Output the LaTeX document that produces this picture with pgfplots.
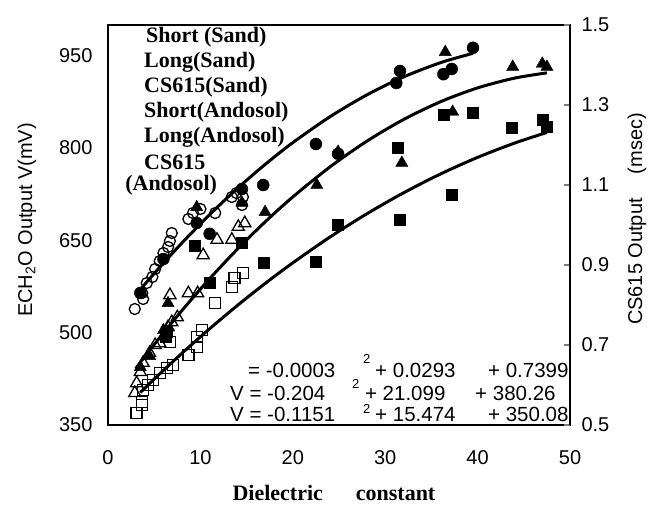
\documentclass[border=0pt]{standalone}
\usepackage{pgfplots}
\pgfplotsset{compat=1.18}
\usepackage{fontspec}
\setmainfont{Liberation Sans}
\newfontfamily\serifb{Liberation Serif}
\begin{document}
\begin{tikzpicture}[x=1pt,y=1pt]
\useasboundingbox (-108,-89) rectangle (547,425);
\tikzset{
  lbl/.style={font=\serifb\bfseries\fontsize{22}{24}\selectfont, anchor=west, inner sep=0pt},
  eq/.style={font=\fontsize{20.5}{24}\selectfont, anchor=base west, inner sep=0pt},
  sup/.style={font=\fontsize{13}{15}\selectfont, anchor=base west, inner sep=0pt},
}
\pgfplotsset{
  common/.style={
    at={(0,0)}, anchor=south west,
    scale only axis, width=462pt, height=400pt,
    xmin=0, xmax=50, clip=false,
    /pgf/number format/assume math mode=true,
    tick label style={font=\fontsize{20}{24}\selectfont},
    axis line style={line width=1.4pt},
  },
  fitline/.style={black, line width=3pt, smooth, no marks},
}
\begin{axis}[common,
  ymin=350, ymax=1000,
  xtick={0,10,20,30,40,50},
  ytick={350,500,650,800,950},
  major tick length=0pt,
  xticklabel style={yshift=-22pt},
  yticklabel style={xshift=-12pt},
]
% Short (Sand) - open triangles
\addplot[only marks, mark=triangle, mark size=7pt, mark options={line width=1.3pt}] coordinates {
(2.9,402) (3.1,418) (3.5,436) (3.8,451) (4.5,467) (5.1,480) (5.6,483) (6.5,509) (6.9,517) (7.5,525)
(6.7,561) (8.7,564) (9.7,564) (10.3,626) (11.8,651) (13.4,651) (14.1,672) (14.8,678)};
% Long (Sand) - open squares
\addplot[only marks, mark=square, mark size=5.5pt, mark options={line width=1.3pt}] coordinates {
(3.1,369) (3.7,382) (3.7,387) (3.8,407) (4.3,415) (4.9,423) (5.6,434) (6.4,443) (7.0,447) (6.7,485)
(8.7,464) (9.6,477) (9.6,493) (10.2,504) (11.6,548) (13.4,574) (13.7,589) (14.6,597)};
% Short (Andosol) - filled triangles
\addplot[only marks, mark=triangle*, mark size=7pt, fill=black] coordinates {
(3.5,444) (4.5,462) (6.0,504) (6.5,548) (9.6,704) (14.5,711) (17.0,696) (22.6,740) (24.9,794)
(31.8,776) (36.5,956) (37.3,859) (43.8,932) (47.0,937) (47.5,932)};
% Long (Andosol) - filled squares
\addplot[only marks, mark=square*, mark size=5.5pt, fill=black] coordinates {
(6.2,493) (6.4,501) (9.4,642) (11.0,582) (14.5,646) (16.8,613) (22.5,615) (24.9,675) (31.3,800)
(31.6,683) (36.3,854) (37.2,724) (39.5,857) (43.7,833) (47.0,846) (47.5,834)};
% fitted curves
\addplot[fitline] coordinates {(3,441.7) (5,480.7) (8,536.0) (11,587.7) (14,635.7) (17,680.0) (20,720.6)
(24,769.1) (28,811.1) (32,846.5) (36,875.4) (40,897.8) (44,913.7) (47.5,922.2)};
\addplot[fitline] coordinates {(3.5,402.8) (5,424.6) (8,466.5) (11,506.4) (14,544.2) (17,579.9) (20,613.5)
(24,655.2) (28,693.1) (32,727.4) (36,758.0) (40,784.9) (44,808.1) (47.5,825.4)};
% legend text
\node[lbl] at (rel axis cs:0.082,0.970) {Short (Sand)};
\node[lbl] at (rel axis cs:0.078,0.9075) {Long(Sand)};
\node[lbl] at (rel axis cs:0.078,0.845) {CS615(Sand)};
\node[lbl] at (rel axis cs:0.078,0.7825) {Short(Andosol)};
\node[lbl] at (rel axis cs:0.078,0.720) {Long(Andosol)};
\node[lbl] at (rel axis cs:0.078,0.6575) {CS615};
\node[lbl] at (rel axis cs:0.037,0.600) {(Andosol)};
% equations
\node[eq] at (rel axis cs:0.3030,0.120) {= -0.0003};
\node[sup] at (rel axis cs:0.5520,0.155) {2};
\node[eq] at (rel axis cs:0.5780,0.120) {+ 0.0293};
\node[eq] at (rel axis cs:0.8225,0.120) {+ 0.7399};
\node[eq] at (rel axis cs:0.2640,0.0625) {V = -0.204};
\node[sup] at (rel axis cs:0.5280,0.0925) {2};
\node[eq] at (rel axis cs:0.5560,0.0625) {+ 21.099};
\node[eq] at (rel axis cs:0.7944,0.0625) {+ 380.26};
\node[eq] at (rel axis cs:0.2640,0.0075) {V = -0.1151};
\node[sup] at (rel axis cs:0.5520,0.030) {2};
\node[eq] at (rel axis cs:0.5780,0.0075) {+ 15.474};
\node[eq] at (rel axis cs:0.8225,0.0075) {+ 350.08};
% axis labels
\node[rotate=90, font=\fontsize{20}{24}\selectfont] at (rel axis cs:-0.1753,0.5125) {ECH\textsubscript{2}O Output V(mV)};
\node[font=\serifb\bfseries\fontsize{22}{24}\selectfont] at (rel axis cs:0.489,-0.17) {Dielectric\hspace{1.5em}constant};
\end{axis}
\begin{axis}[common,
  ymin=0.5, ymax=1.5,
  axis y line*=right, axis x line=none,
  ytick={0.5,0.7,0.9,1.1,1.3,1.5},
  yticklabel style={xshift=8pt, /pgf/number format/fixed, /pgf/number format/fixed zerofill, /pgf/number format/precision=1},
  tick align=inside, major tick length=6pt,
  major tick style={line width=1.2pt},
]
% CS615 (Sand) - open circles
\addplot[only marks, mark=o, mark size=5.5pt, mark options={line width=1.3pt}] coordinates {
(2.9,0.79) (3.7,0.83) (3.8,0.815) (4.2,0.855) (4.8,0.87) (5.1,0.89) (5.6,0.91) (6.0,0.93) (6.5,0.945)
(6.7,0.96) (6.9,0.98) (8.7,1.015) (9.2,1.03) (10.0,1.04) (11.6,1.03) (13.4,1.07) (13.9,1.08) (14.6,1.07) (14.5,1.05)};
% CS615 (Andosol) - filled circles
\addplot[only marks, mark=*, mark size=6pt, fill=black] coordinates {
(3.5,0.83) (6.0,0.915) (9.6,1.005) (11.0,0.978) (14.5,1.09) (16.8,1.10) (22.5,1.2025) (24.9,1.178)
(31.2,1.355) (31.6,1.385) (36.3,1.377) (37.2,1.39) (39.5,1.443)};
\addplot[fitline] coordinates {(3,0.8251) (5,0.8789) (8,0.9551) (11,1.0259) (14,1.0913) (17,1.1513) (20,1.2059)
(24,1.2703) (28,1.3251) (32,1.3703) (36,1.4059) (39.5,1.4292)};
\node[rotate=90, font=\fontsize{20}{24}\selectfont] at (rel axis cs:1.145,0.515) {CS615 Output\hspace{1.2em}(msec)};
\end{axis}
\end{tikzpicture}
\end{document}
